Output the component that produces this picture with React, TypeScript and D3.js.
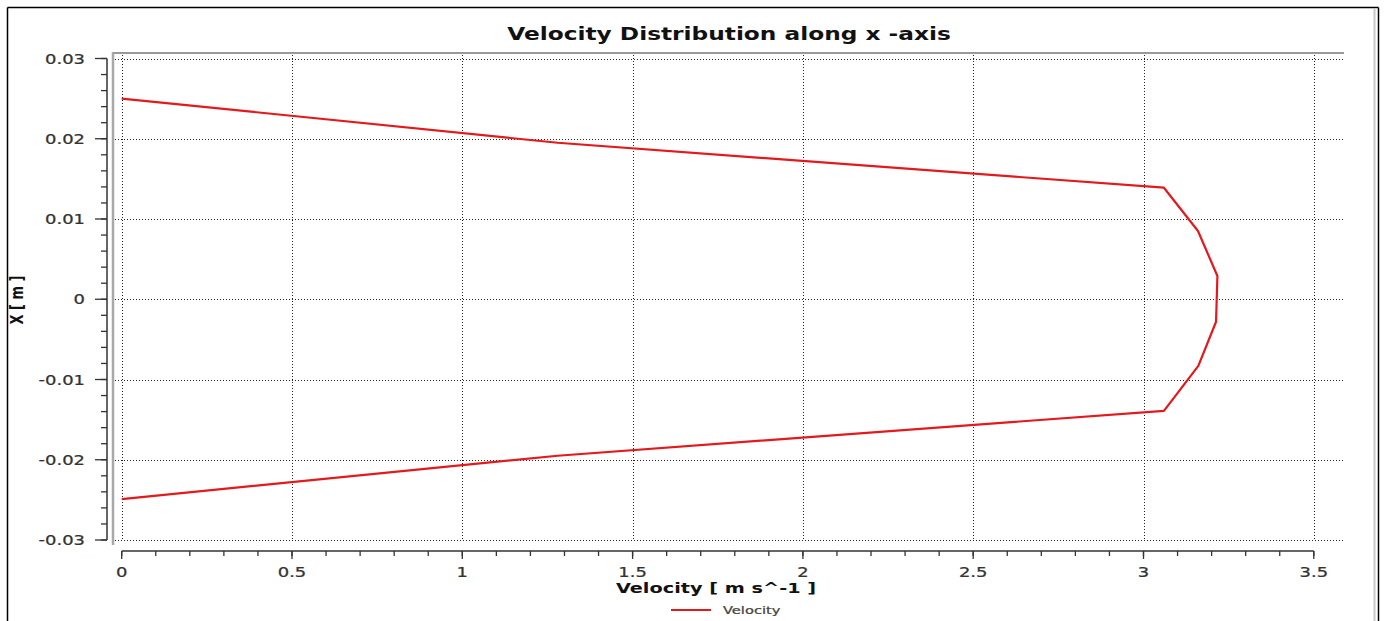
import React from "react";
import * as d3 from "d3";

const velocity = [0, 1.28, 3.06, 3.16, 3.217, 3.213, 3.161, 3.06, 1.28, 0];
const position = [0.025, 0.0195, 0.0139, 0.0085, 0.0029, -0.0028, -0.0083, -0.0139, -0.0195, -0.0249];
const xTicks = [0, 0.5, 1, 1.5, 2, 2.5, 3, 3.5];
const xTickLabels = ["0", "0.5", "1", "1.5", "2", "2.5", "3", "3.5"];
const yTicks = [0.03, 0.02, 0.01, 0, -0.01, -0.02, -0.03];
const yTickLabels = ["0.03", "0.02", "0.01", "0", "-0.01", "-0.02", "-0.03"];
const title = "Velocity Distribution along x -axis";
const xLabel = "Velocity [ m s^-1 ]";
const yLabel = "X [ m ]";
const seriesName = "Velocity";

const W = 1384;
const H = 621;
const SX = 1.33;
const FONT = "'DejaVu Sans', Verdana, sans-serif";

function T({ x, y, anchor = "start", size, bold = false, fill = "#222", children }: any) {
  return (
    <text
      transform={`translate(${x},${y}) scale(${SX},1)`}
      textAnchor={anchor}
      fontFamily={FONT}
      fontSize={size}
      fontWeight={bold ? "bold" : "normal"}
      fill={fill}
      stroke={bold ? "none" : fill}
      strokeWidth={bold ? 0 : 0.25}
    >
      {children}
    </text>
  );
}

export default function App() {
  const x = d3.scaleLinear().domain([0, 3.5]).range([121.7, 1313.8]);
  const y = d3.scaleLinear().domain([-0.03, 0.03]).range([540, 58.5]);
  const pts: [number, number][] = velocity.map((v, i) => [v, position[i]]);
  const line = d3
    .line<[number, number]>()
    .x((d) => x(d[0]))
    .y((d) => y(d[1]));

  const xMinor = d3.range(0, 3.5001, 0.1).map((v) => +v.toFixed(2));
  const yMinor = d3.range(-0.03, 0.03001, 0.002).map((v) => +v.toFixed(4));

  const gridLeft = 115;
  const gridRight = 1343;
  const gridTop = 55;
  const gridBottom = 541;
  const axisX = 107;
  const axisY = 551;

  return (
    <svg
      width={W}
      height={H}
      style={{ position: "absolute", left: 0, top: 0, background: "#fff" }}
    >
      {/* outer frame */}
      <rect x={0} y={0} width={W} height={H} fill="#fff" />
      <line x1={7.5} y1={7.5} x2={1378.5} y2={7.5} stroke="#000" strokeWidth={1.5} />
      <line x1={7.5} y1={7.5} x2={7.5} y2={H} stroke="#000" strokeWidth={1.5} />
      <line x1={1378.5} y1={7.5} x2={1378.5} y2={H} stroke="#000" strokeWidth={1.5} />
      <line x1={1374.5} y1={9} x2={1374.5} y2={H} stroke="#c8c8c8" strokeWidth={2} />

      {/* title */}
      <T x={729} y={40} anchor="middle" size={17.5} bold fill="#111">
        {title}
      </T>

      {/* plot frame (gray) */}
      <line x1={112} y1={53} x2={1344} y2={53} stroke="#9a9a9a" strokeWidth={2} />
      <line x1={113} y1={52} x2={113} y2={545} stroke="#a8a8a8" strokeWidth={2.5} />

      {/* grid */}
      {yTicks.map((t) => (
        <line
          key={"gy" + t}
          x1={gridLeft}
          x2={gridRight}
          y1={Math.round(y(t)) + 0.5}
          y2={Math.round(y(t)) + 0.5}
          stroke="#222"
          strokeWidth={1}
          strokeDasharray="1,2"
        />
      ))}
      {xTicks.map((t) => (
        <line
          key={"gx" + t}
          x1={Math.round(x(t)) + 0.5}
          x2={Math.round(x(t)) + 0.5}
          y1={gridTop}
          y2={gridBottom}
          stroke="#222"
          strokeWidth={1}
          strokeDasharray="1,2"
        />
      ))}

      {/* y axis */}
      <line x1={axisX} x2={axisX} y1={y(0.03)} y2={y(-0.03)} stroke="#333" strokeWidth={1.5} />
      {yMinor.map((t) => (
        <line key={"ym" + t} x1={101} x2={axisX} y1={y(t)} y2={y(t)} stroke="#333" strokeWidth={1.3} />
      ))}
      {yTicks.map((t, i) => (
        <g key={"yt" + t}>
          <line x1={95} x2={axisX} y1={y(t)} y2={y(t)} stroke="#333" strokeWidth={1.3} />
          <T x={85} y={y(t) + 5} anchor="end" size={13.5} fill="#333">
            {yTickLabels[i]}
          </T>
        </g>
      ))}

      {/* x axis */}
      <line x1={x(0)} x2={x(3.5)} y1={axisY} y2={axisY} stroke="#333" strokeWidth={1.5} />
      {xMinor.map((t) => (
        <line key={"xm" + t} x1={x(t)} x2={x(t)} y1={axisY} y2={axisY + 5} stroke="#333" strokeWidth={1.3} />
      ))}
      {xTicks.map((t, i) => (
        <g key={"xt" + t}>
          <line x1={x(t)} x2={x(t)} y1={axisY} y2={axisY + 8} stroke="#333" strokeWidth={1.3} />
          <T x={x(t)} y={577} anchor="middle" size={13.5} fill="#333">
            {xTickLabels[i]}
          </T>
        </g>
      ))}

      {/* axis labels */}
      <T x={716} y={593} anchor="middle" size={14.5} bold fill="#111">
        {xLabel}
      </T>
      <text
        transform={`translate(23,300) rotate(-90) scale(1,${SX})`}
        textAnchor="middle"
        fontFamily={FONT}
        fontSize={13}
        fontWeight="bold"
        fill="#111"
      >
        {yLabel}
      </text>

      {/* data line */}
      <path d={line(pts) || ""} fill="none" stroke="#e3191c" strokeWidth={2.2} strokeLinejoin="round" />

      {/* legend */}
      <line x1={671} x2={711} y1={610} y2={610} stroke="#e3191c" strokeWidth={2} />
      <T x={723} y={614} size={11} fill="#444">
        {seriesName}
      </T>
    </svg>
  );
}
